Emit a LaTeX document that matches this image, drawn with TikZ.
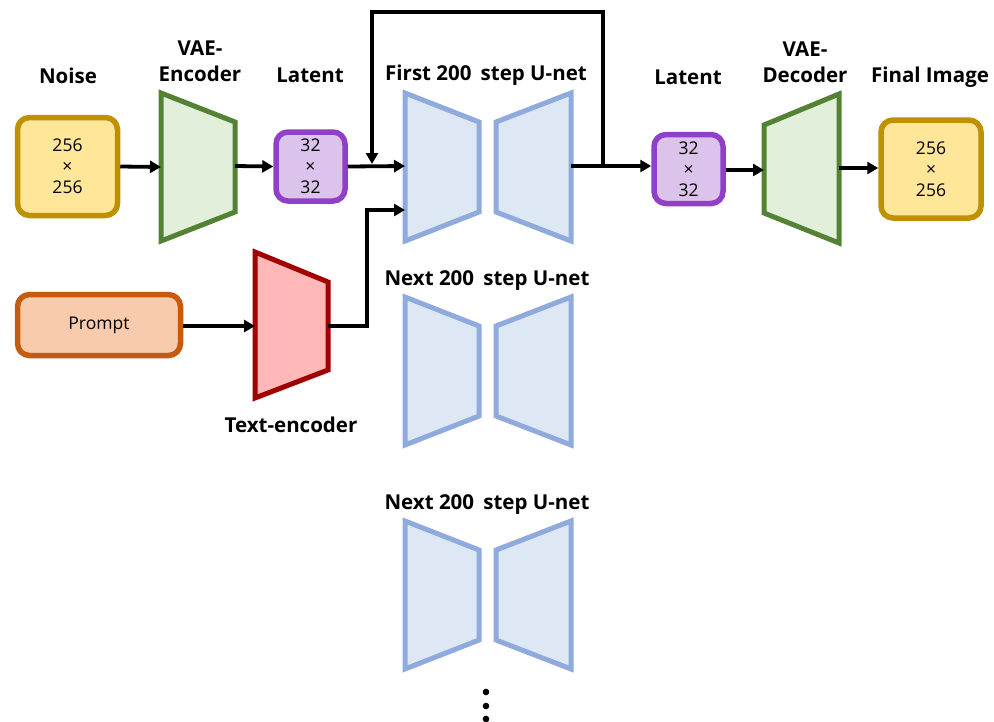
\documentclass[tikz,border=0pt]{standalone}
\usepackage{fontspec}
\setmainfont{Open Sans}
\usetikzlibrary{arrows.meta}
\definecolor{noiseFill}{HTML}{FFE699}
\definecolor{noiseLine}{HTML}{BF9000}
\definecolor{encFill}{HTML}{E2EFDA}
\definecolor{encLine}{HTML}{548235}
\definecolor{latFill}{HTML}{DCC3EB}
\definecolor{latLine}{HTML}{9040C8}
\definecolor{unetFill}{HTML}{DEE8F5}
\definecolor{unetLine}{HTML}{8FAADC}
\definecolor{promptFill}{HTML}{F8CBAD}
\definecolor{promptLine}{HTML}{C55A11}
\definecolor{teFill}{HTML}{FFB7B7}
\definecolor{teLine}{HTML}{A00000}
\begin{document}
\begin{tikzpicture}[x=1pt,y=-1pt,
  box/.style={draw, line width=5.5pt, rounded corners=12pt, align=center,
    inner sep=0pt, font=\fontsize{17.5}{21}\selectfont},
  title/.style={align=center, inner sep=0pt, font=\bfseries\fontsize{20.5}{26}\selectfont},
  trap/.style={line width=5pt, line join=miter},
  enc/.style={trap, draw=encLine, fill=encFill},
  unet/.style={trap, draw=unetLine, fill=unetFill},
  tenc/.style={trap, draw=teLine, fill=teFill},
  arr/.style={line width=3.8pt, -{Triangle[length=11pt,width=12pt]}}]
\useasboundingbox (0,0) rectangle (994,721);

% input noise
\node[box, fill=noiseFill, draw=noiseLine, minimum width=100pt, minimum height=98pt]
  (noise) at (67.5,166.5) {256\\×\\256};
\node[title] (noiseT) at (68,76) {Noise};

% VAE encoder
\draw[enc] (161,93) -- (235,122) -- (235,212) -- (161,241) -- cycle;
\coordinate (encIn) at (161,167);
\coordinate (encOut) at (235,166);
\node[title] (encT) at (200,61) {VAE-\\Encoder};

% latent
\node[box, fill=latFill, draw=latLine, minimum width=69pt, minimum height=69pt]
  (lat1) at (310.5,166.5) {32\\×\\32};
\node[title] (lat1T) at (310,75) {Latent};

% U-nets
\newcommand\unetpair[1]{%
  \draw[unet] (405,#1) -- (479,#1+29) -- (479,#1+119) -- (405,#1+148) -- cycle;
  \draw[unet] (571,#1) -- (496,#1+29) -- (496,#1+119) -- (571,#1+148) -- cycle;}
\unetpair{93}
\unetpair{297}
\unetpair{521}
\coordinate (u1In) at (405,166);
\coordinate (u1In2) at (405,210);
\coordinate (u1Out) at (571,166);
\coordinate (fb) at (603,166);
\coordinate (fbIn) at (372,164);
\node[title] (u1T) at (486,75) {First 200\hspace{0.45em}step U-net};
\node[title] (u2T) at (487,281) {Next 200\hspace{0.45em}step U-net};
\node[title] (u3T) at (487,505) {Next 200\hspace{0.45em}step U-net};

% continuation dots
\foreach \y in {692,706,719} \fill (486,\y) circle (3.3pt);

% second latent
\node[box, fill=latFill, draw=latLine, minimum width=69pt, minimum height=69pt]
  (lat2) at (688.5,169) {32\\×\\32};
\node[title] (lat2T) at (688,77) {Latent};

% VAE decoder
\draw[enc] (764,125) -- (839,94) -- (839,243) -- (764,213) -- cycle;
\coordinate (decIn) at (764,170);
\coordinate (decOut) at (839,168);
\node[title] (decT) at (805,62) {VAE-\\Decoder};

% final image
\node[box, fill=noiseFill, draw=noiseLine, minimum width=100pt, minimum height=98pt]
  (final) at (931,169) {256\\×\\256};
\node[title] (finalT) at (930,77) {Final Image};

% prompt and text encoder
\node[box, fill=promptFill, draw=promptLine, minimum width=163pt, minimum height=61pt]
  (prompt) at (99,325) {Prompt};
\draw[tenc] (255,252) -- (328,282) -- (328,370) -- (255,398) -- cycle;
\coordinate (teIn) at (255,326);
\coordinate (teOut) at (328,326);
\node[title] (teT) at (291,425) {Text-encoder};

% connectors
\draw[arr] (noise.east) -- (encIn);
\draw[arr] (encOut) -- (lat1.west);
\draw[arr] (lat1.east) -- (u1In);
\draw[arr] (u1Out) -- (lat2.west |- u1Out);
\draw[arr] (fb) -- ++(0,-154) -| (fbIn);
\draw[arr] (lat2.east |- decIn) -- (decIn);
\draw[arr] (decOut) -- (final.west |- decOut);
\draw[arr] (prompt.east |- teIn) -- (teIn);
\draw[arr] (teOut) -- ++(39,0) |- (u1In2);
\end{tikzpicture}
\end{document}
